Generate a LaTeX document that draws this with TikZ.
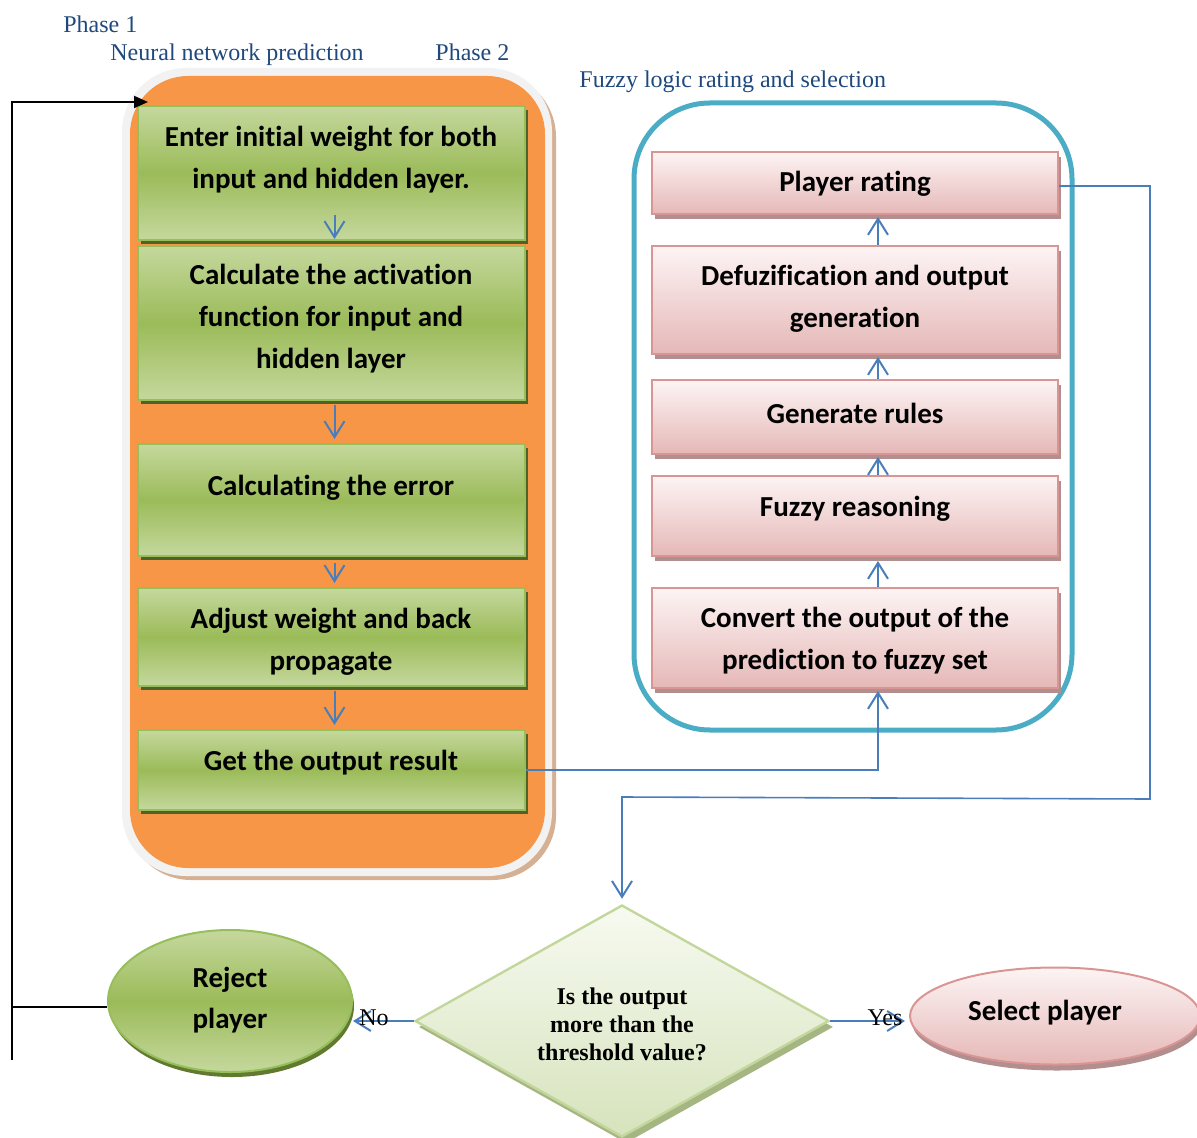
\documentclass[tikz,border=0pt]{standalone}
\usepackage{fontspec}
\setmainfont{Liberation Serif}
\newfontfamily\calib[Ligatures={NoCommon,NoContextual}]{Carlito}
\usetikzlibrary{arrows.meta,shapes.geometric,calc}
\definecolor{gLight}{RGB}{197,216,157}
\definecolor{gDark}{RGB}{155,187,89}
\definecolor{gBord}{RGB}{150,190,90}
\definecolor{gShad}{RGB}{79,98,40}
\definecolor{pTop}{RGB}{253,244,244}
\definecolor{pBot}{RGB}{229,184,183}
\definecolor{pBord}{RGB}{217,149,148}
\definecolor{pShad}{RGB}{178,142,142}
\definecolor{orangeF}{RGB}{247,150,70}
\definecolor{tanE}{RGB}{214,176,146}
\definecolor{grayE}{RGB}{242,242,242}
\definecolor{cyanE}{RGB}{75,172,198}
\definecolor{aBlue}{RGB}{74,126,187}
\definecolor{lBlue}{RGB}{31,73,125}
\definecolor{dTop}{RGB}{247,250,241}
\definecolor{dBot}{RGB}{214,227,188}
\definecolor{dBord}{RGB}{195,214,155}
\definecolor{dShad}{RGB}{165,182,130}
\definecolor{eShadG}{RGB}{98,122,48}
\begin{document}
\begin{tikzpicture}[x=0.5pt,y=-0.5pt,
  gbox/.style={draw=gBord, line width=1pt, top color=gLight, bottom color=gLight, middle color=gDark, minimum width=193.5pt, inner sep=0pt},
  gshad/.style={fill=gShad, minimum width=193.5pt, inner sep=0pt},
  pbox/.style={draw=pBord, line width=1pt, top color=pTop, bottom color=pBot, minimum width=203pt, inner sep=0pt},
  pshad/.style={fill=pShad, minimum width=203pt, inner sep=0pt},
  btxt/.style={font=\calib\bfseries\fontsize{14.5}{21}\selectfont, align=center, inner sep=0pt},
  ptxt/.style={font=\fontsize{12}{14}\selectfont, text=lBlue, anchor=base west, inner sep=0pt},
  flow/.style={draw=aBlue, line width=1pt, -{Straight Barb[length=8pt,width=10pt,line width=1pt]}},
  loopline/.style={draw=black, line width=1pt},
]
\useasboundingbox (0,0) rectangle (1197,1138);

% Phase labels
\node[ptxt] (ph1) at (63,33) {Phase 1};
\node[ptxt] (nnp) at (110,61) {Neural network prediction};
\node[ptxt] (ph2) at (435,61) {Phase 2};
\node[ptxt] (flr) at (579,88) {Fuzzy logic rating and selection};

% Orange container
\fill[tanE, rounded corners=32pt] (127,73) rectangle (556,880);
\fill[grayE, rounded corners=32pt] (122,68) rectangle (552,876);
\fill[orangeF, rounded corners=29pt] (130,76) rectangle (545,868);

% Green boxes (shadows first)
\node[gshad, minimum height=67pt] at ([xshift=1.5pt,yshift=-2pt]331.5,173) {};
\node[gbox, minimum height=67pt] (g1) at (331.5,173) {};
\node[gshad, minimum height=77pt] at ([xshift=1.5pt,yshift=-2pt]331.5,323) {};
\node[gbox, minimum height=77pt] (g2) at (331.5,323) {};
\node[gshad, minimum height=56pt] at ([xshift=1.5pt,yshift=-2pt]331.5,500) {};
\node[gbox, minimum height=56pt] (g3) at (331.5,500) {};
\node[gshad, minimum height=49pt] at ([xshift=1.5pt,yshift=-2pt]331.5,637) {};
\node[gbox, minimum height=49pt] (g4) at (331.5,637) {};
\node[gshad, minimum height=40pt] at ([xshift=1.5pt,yshift=-2pt]331.5,770) {};
\node[gbox, minimum height=40pt] (g5) at (331.5,770) {};

\node[btxt] (g1t) at (331,160) {Enter initial weight for both\\input and hidden layer.};
\node[btxt] (g2t) at (331,319) {Calculate the activation\\function for input and\\hidden layer};
\node[btxt] (g3t) at (331,488) {Calculating the error};
\node[btxt] (g4t) at (331,642) {Adjust weight and back\\propagate};
\node[btxt] (g5t) at (331,763) {Get the output result};

% Blue container
\draw[cyanE, line width=2.5pt, rounded corners=38pt] (634,103) rectangle (1072,730);

% Pink boxes
\node[pshad, minimum height=31pt] at ([xshift=1.5pt,yshift=-2.5pt]855,183) {};
\node[pbox, minimum height=31pt] (p1) at (855,183) {};
\node[pshad, minimum height=54pt] at ([xshift=1.5pt,yshift=-2.5pt]855,300) {};
\node[pbox, minimum height=54pt] (p2) at (855,300) {};
\node[pshad, minimum height=37pt] at ([xshift=1.5pt,yshift=-2.5pt]855,417) {};
\node[pbox, minimum height=37pt] (p3) at (855,417) {};
\node[pshad, minimum height=40pt] at ([xshift=1.5pt,yshift=-2.5pt]855,516) {};
\node[pbox, minimum height=40pt] (p4) at (855,516) {};
\node[pshad, minimum height=50pt] at ([xshift=1.5pt,yshift=-2.5pt]855,638) {};
\node[pbox, minimum height=50pt] (p5) at (855,638) {};

\node[btxt] (p1t) at (855,184) {Player rating};
\node[btxt] (p2t) at (855,299) {Defuzification and output\\generation};
\node[btxt] (p3t) at (855,413) {Generate rules};
\node[btxt] (p4t) at (855,509) {Fuzzy reasoning};
\node[btxt] (p5t) at (855,641) {Convert the output of the\\prediction to fuzzy set};

% Decision diamond
\node[diamond, fill=dShad, minimum width=207pt, minimum height=116pt, inner sep=0pt] at ([xshift=2pt,yshift=-3pt]622,1021) {};
\node[diamond, draw=dBord, line width=1.2pt, top color=dTop, bottom color=dBot, minimum width=207pt, minimum height=116pt, inner sep=0pt] (d) at (622,1021) {};
\node[font=\bfseries\fontsize{12}{14}\selectfont, align=center, inner sep=0pt] (dt) at (622,1024) {Is the output\\more than the\\threshold value?};

% Reject ellipse
\node[ellipse, fill=eShadG, minimum width=122pt, minimum height=71pt, inner sep=0pt] at ([xshift=1pt,yshift=-2.5pt]230,1001) {};
\node[ellipse, draw=gBord, line width=1pt, top color=gLight, bottom color=gLight, middle color=gDark, minimum width=122pt, minimum height=71pt, inner sep=0pt] (rej) at (230,1001) {};
\node[btxt, font=\calib\bfseries\fontsize{14.5}{20.5}\selectfont] (rejt) at (230,1000) {Reject\\player};

% Select ellipse
\node[ellipse, fill=pShad, minimum width=145pt, minimum height=48.5pt, inner sep=0pt] at ([xshift=1pt,yshift=-3pt]1055,1016) {};
\node[ellipse, draw=pBord, line width=1pt, top color=pTop, bottom color=pBot, minimum width=145pt, minimum height=48.5pt, inner sep=0pt] (sel) at (1055,1016) {};
\node[btxt] (selt) at (1045,1013) {Select player};

% Flow arrows in phase 1
\draw[flow] ([xshift=1.5pt,yshift=13pt]g1.south) -- ([xshift=1.5pt,yshift=3pt]g2.north);
\draw[flow, shorten <=2pt, shorten >=2pt] ([xshift=1.5pt]g2.south) -- ([xshift=1.5pt]g3.north);
\draw[flow, shorten <=3pt, shorten >=2pt] ([xshift=1.5pt]g3.south) -- ([xshift=1.5pt]g4.north);
\draw[flow, shorten <=2pt, shorten >=2pt] ([xshift=1.5pt]g4.south) -- ([xshift=1.5pt]g5.north);

% Phase 1 -> phase 2
\draw[flow] (g5.east) -| ([xshift=11.5pt,yshift=-1pt]p5.south);

% Flow arrows in phase 2
\draw[flow] ([xshift=11.5pt]p5.north) -- ([xshift=11.5pt,yshift=-2pt]p4.south);
\draw[flow] ([xshift=11.5pt]p4.north) -- ([xshift=11.5pt,yshift=-1pt]p3.south);
\draw[flow] ([xshift=11.5pt]p3.north) -- ([xshift=11.5pt,yshift=-1pt]p2.south);
\draw[flow] ([xshift=11.5pt]p2.north) -- ([xshift=11.5pt,yshift=-1pt]p1.south);

% Player rating -> decision
\coordinate (c1) at (1150,799);
\coordinate (c2) at (622,797);
\draw[flow, line width=0.8pt] ([yshift=-1.5pt]p1.east) -- ([yshift=-1.5pt]p1.east -| c1) -- (c1) -- (c2) -- ([yshift=2.5pt]d.north);

% Decision outputs
\draw[flow] (d.west) -- (d.west -| rej.east);
\draw[flow] (d.east) -- ([xshift=-2pt]d.east -| sel.west);
\node[font=\fontsize{12}{14}\selectfont, inner sep=0pt] (no) at (374,1018) {No};
\node[font=\fontsize{12}{14}\selectfont, inner sep=0pt] (yes) at (885,1018) {Yes};

% Loop back
\coordinate (lb) at (12,1060);
\coordinate (lt) at (12,102);
\coordinate (la) at (148,102);
\draw[loopline, -{Triangle[length=7pt,width=6pt]}] (lb) -- (lt) -- (la);
\draw[loopline] ([yshift=-3pt]rej.west) -- ([yshift=-3pt]rej.west -| lt);
\end{tikzpicture}
\end{document}
